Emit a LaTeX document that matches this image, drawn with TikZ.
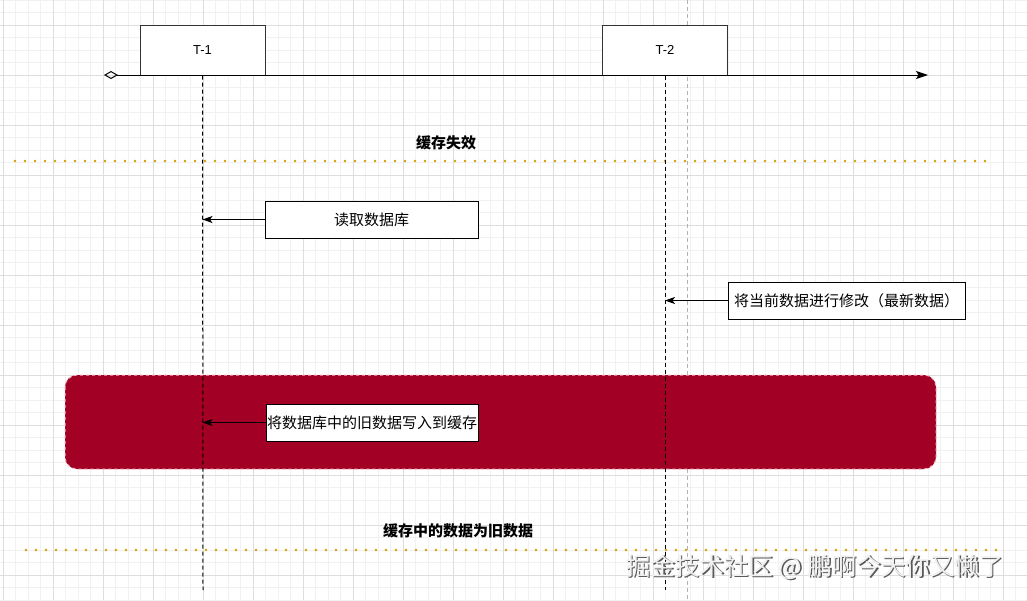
\documentclass[tikz,border=0pt]{standalone}
\usepackage{fontspec}
\setmainfont{Liberation Sans}
\newfontfamily\cjk{Noto Sans CJK SC}
\usetikzlibrary{arrows.meta}
\definecolor{gridminor}{HTML}{F1F1F1}
\definecolor{gridmajor}{HTML}{DDDDDD}
\definecolor{dotorange}{HTML}{D79B00}
\definecolor{cachered}{HTML}{A20025}
\definecolor{cacheedge}{HTML}{F4B8C4}
\begin{document}
\begin{tikzpicture}[x=1pt, y=-1pt, line width=1pt,
    tbox/.style={draw=black!80, fill=white, minimum width=125pt, minimum height=50pt,
      inner sep=0pt, font=\fontsize{13}{15}\selectfont},
    msgbox/.style={draw=black, fill=white, minimum height=37pt, inner sep=0pt,
      font=\cjk\fontsize{15}{18}\selectfont},
    lifeline/.style={dash pattern=on 4pt off 3pt},
    msg/.style={-{Stealth[length=10pt, width=7pt, inset=2.5pt]}},
    sepline/.style={dotorange, line width=2.8pt, line cap=round, dash pattern=on 0pt off 10pt},
    sectlabel/.style={font=\cjk\bfseries\fontsize{15}{18}\selectfont}]
  \useasboundingbox (0,0) rectangle (1027,600);
  \fill[white] (0,0) rectangle (1027,600);
  % background grid: minor 12.5, major 50
  \foreach \x in {-9.5,3,...,1030} \draw[gridminor, line width=0.8pt] (\x,0) -- (\x,600);
  \foreach \y in {0,12.5,...,600} \draw[gridminor, line width=0.8pt] (0,\y) -- (1027,\y);
  \foreach \x in {3,53,...,1003} \draw[gridmajor, line width=0.8pt] (\x,0) -- (\x,600);
  \foreach \y in {25,75,...,575} \draw[gridmajor, line width=0.8pt] (0,\y) -- (1027,\y);
  \draw[black!30, dash pattern=on 4pt off 3pt, line width=0.8pt] (687,0) -- (687,600);

  % threads on the time axis
  \node[tbox] (t1) at (202.5,50) {T-1};
  \node[tbox] (t2) at (665,50) {T-2};
  \coordinate (axis0) at (104,75);
  \coordinate (axis1) at (928,75);
  \draw[{Diamond[open, length=14pt, width=8pt]}-{Stealth[length=12pt, width=8pt, inset=2.5pt]}]
    (axis0) -- (axis1);

  % cache is invalid
  \node[sectlabel] (miss) at (446,143) {缓存失效};
  \draw[sepline] (15,161) -- (988,161);

  % old data written back
  \draw[fill=cachered, draw=cacheedge, dash pattern=on 3pt off 3pt, rounded corners=12pt]
    (65,375) rectangle (936,469);

  \coordinate (t1end) at (203,590);
  \coordinate (t2end) at (665,590);
  \draw[lifeline] (t1.south) -- (t1end);
  \draw[lifeline] (t2.south) -- (t2end);

  \node[msgbox, minimum width=213pt] (read) at (371.5,219.5) {读取数据库};
  \draw[msg] (read.west) -- (read.west -| t1.south);
  \node[msgbox, minimum width=237pt] (update) at (846.5,300.5) {将当前数据进行修改（最新数据）};
  \draw[msg] (update.west) -- (update.west -| t2.south);
  \node[msgbox, minimum width=212pt] (write) at (372,422.5) {将数据库中的旧数据写入到缓存};
  \draw[msg] (write.west) -- (write.west -| t1.south);

  % cache now holds old data
  \node[sectlabel] (stale) at (458,531) {缓存中的数据为旧数据};
  \draw[sepline] (26,550) -- (1000,550);

  \node[font=\cjk\fontsize{24.5}{28}\selectfont, text=black!65] (markshadow) at (816.5,568.5)
    {掘金技术社区 @ 鹏啊今天你又懒了};
  \node[font=\cjk\fontsize{24.5}{28}\selectfont, text=white!94!black] (mark) at (815,567)
    {掘金技术社区 @ 鹏啊今天你又懒了};
\end{tikzpicture}
\end{document}
